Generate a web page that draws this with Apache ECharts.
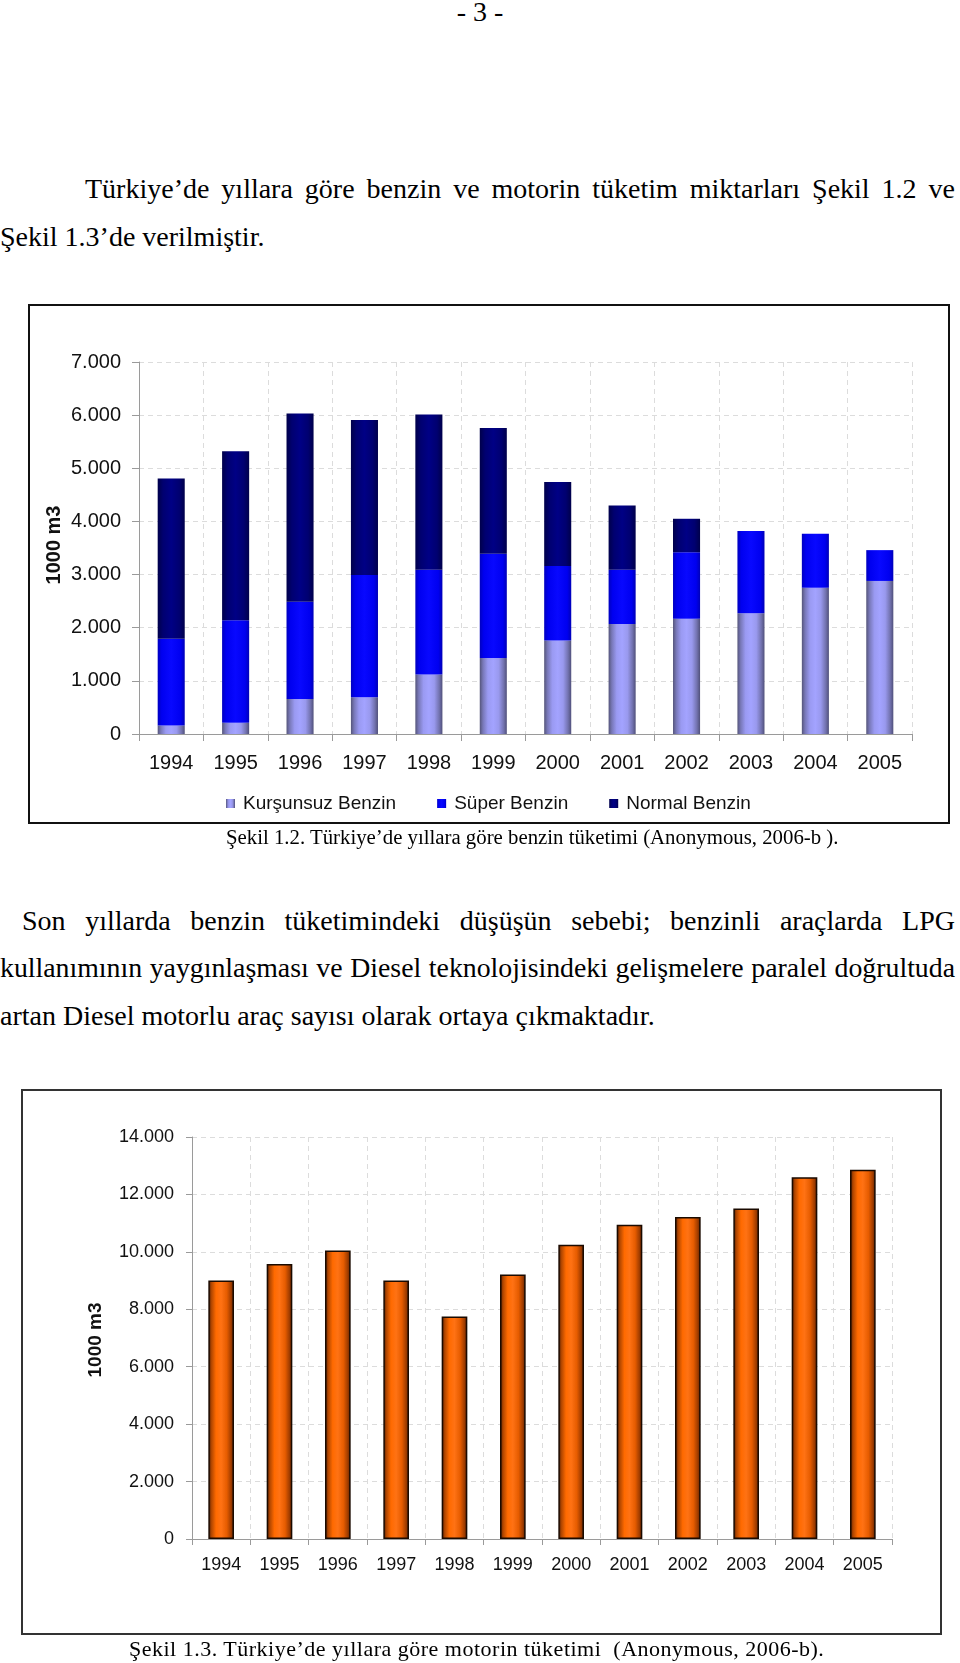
<!DOCTYPE html>
<html>
<head>
<meta charset="utf-8">
<script src="https://cdn.jsdelivr.net/npm/echarts@6/dist/echarts.min.js"></script>
<style>
  html, body { margin: 0; padding: 0; background: #fff; }
  body { width: 960px; height: 1663px; position: relative; overflow: hidden; font-family: "Liberation Serif", "Times New Roman", serif; color: #000; }
  .ln { position: absolute; font-size: 28px; line-height: 28px; white-space: normal; }
  .just { text-align: justify; text-align-last: justify; }
  .cap { position: absolute; font-size: 21px; line-height: 21px; white-space: nowrap; }
  .frame { position: absolute; box-sizing: border-box; pointer-events: none; }
  .chart { position: absolute; }
</style>
</head>
<body>
<div class="ln" style="left:0; top:-2px; width:960px; text-align:center;">- 3 -</div>

<div class="ln just" style="left:85px; top:175px; width:870px;">Türkiye’de yıllara göre benzin ve motorin tüketim miktarları Şekil 1.2 ve</div>
<div class="ln" style="left:0; top:223px; width:955px;">Şekil 1.3’de verilmiştir.</div>

<div id="c1" class="chart" style="left:28px; top:304px; width:922px; height:520px;"></div>
<div class="frame" style="left:28px; top:304px; width:922px; height:520px; border:2px solid #111;"></div>
<div class="cap" style="left:226px; top:826px; font-size:20.8px;">Şekil 1.2. Türkiye’de yıllara göre benzin tüketimi (Anonymous, 2006-b ).</div>

<div class="ln just" style="left:22px; top:907px; width:933px;">Son yıllarda benzin tüketimindeki düşüşün sebebi; benzinli araçlarda LPG</div>
<div class="ln just" style="left:0; top:954px; width:955px; font-size:27.8px; white-space:nowrap;">kullanımının yaygınlaşması ve Diesel teknolojisindeki gelişmelere paralel doğrultuda</div>
<div class="ln" style="left:0; top:1002px; width:955px;">artan Diesel motorlu araç sayısı olarak ortaya çıkmaktadır.</div>

<div id="c2" class="chart" style="left:21px; top:1089px; width:921px; height:546px;"></div>
<div class="frame" style="left:21px; top:1089px; width:921px; height:546px; border:2px solid #333;"></div>
<div class="cap" style="left:129px; top:1638px; font-size:22px; line-height:22px; letter-spacing:0.5px;">Şekil 1.3. Türkiye’de yıllara göre motorin tüketimi &nbsp;(Anonymous, 2006-b).</div>

<script>
// ---------- data ----------
const years = ['1994','1995','1996','1997','1998','1999','2000','2001','2002','2003','2004','2005'];
const kursunsuz = [160, 210, 660, 690, 1120, 1430, 1760, 2070, 2170, 2270, 2750, 2880];
const superBenzin = [1630, 1930, 1830, 2300, 1970, 1960, 1400, 1020, 1250, 1550, 1020, 580];
const normalBenzin = [3020, 3180, 3540, 2920, 2920, 2370, 1580, 1210, 630, 0, 0, 0];
const motorin = [9000, 9580, 10050, 9000, 7750, 9210, 10250, 10940, 11210, 11510, 12600, 12860];
const yTicks1 = ['0','1.000','2.000','3.000','4.000','5.000','6.000','7.000'];
const yTicks2 = ['0','2.000','4.000','6.000','8.000','10.000','12.000','14.000'];
const seriesNames = ['Kurşunsuz Benzin', 'Süper Benzin', 'Normal Benzin'];
const yName = '1000 m3';

const FONT = '"Liberation Sans", Arial, sans-serif';
const G = echarts.graphic.LinearGradient;

function hGrad(stops) {
  return new G(0, 0, 1, 0, stops.map(c => ({ offset: c[0], color: c[1] })));
}

const gridDash = { color: '#dcdcdc', width: 1, type: [5, 4] };

// ---------- chart 1 ----------
const c1 = echarts.init(document.getElementById('c1'), null, { renderer: 'canvas' });
c1.setOption({
  animation: false,
  textStyle: { fontFamily: FONT },
  grid: { left: 111, right: 38, top: 58, bottom: 90, containLabel: false },
  legend: {
    data: seriesNames,
    left: 193, top: 485,
    itemWidth: 9, itemHeight: 9, itemGap: 41,
    icon: 'rect',
    textStyle: { fontSize: 19, color: '#111', fontFamily: FONT, padding: [0, 0, 0, 3] }
  },
  xAxis: {
    type: 'category', data: years,
    axisLine: { lineStyle: { color: '#9a9a9a', width: 1 } },
    axisTick: { show: true, length: 7, lineStyle: { color: '#9a9a9a' } },
    axisLabel: { fontSize: 20, color: '#111', margin: 19, fontFamily: FONT },
    splitLine: { show: true, interval: 0, lineStyle: gridDash }
  },
  yAxis: {
    type: 'value', min: 0, max: 7000, interval: 1000,
    axisLine: { show: true, lineStyle: { color: '#9a9a9a', width: 1 } },
    axisTick: { show: true, length: 7, lineStyle: { color: '#9a9a9a' } },
    axisLabel: { fontSize: 20, color: '#111', margin: 18, fontFamily: FONT,
      formatter: v => yTicks1[Math.round(v / 1000)] },
    splitLine: { show: true, lineStyle: gridDash }
  },
  graphic: [{
    type: 'text', x: 26, y: 241, rotation: Math.PI / 2,
    style: { text: yName, font: 'bold 20px ' + FONT, fill: '#111', align: 'center', verticalAlign: 'middle' }
  }],
  series: [
    { name: seriesNames[0], type: 'bar', stack: 'b', barWidth: '42%', data: kursunsuz,
      itemStyle: { color: hGrad([[0,'#55557a'],[0.12,'#7878b8'],[0.3,'#9a9af2'],[0.5,'#a3a3ff'],[0.7,'#9999ee'],[0.88,'#7373b0'],[1,'#50507a']]) } },
    { name: seriesNames[1], type: 'bar', stack: 'b', barWidth: '42%', data: superBenzin,
      itemStyle: { color: hGrad([[0,'#0000c0'],[0.15,'#0000f0'],[0.5,'#0808ff'],[0.85,'#0000f0'],[1,'#0000b8']]) } },
    { name: seriesNames[2], type: 'bar', stack: 'b', barWidth: '42%', data: normalBenzin,
      itemStyle: { color: hGrad([[0,'#00004a'],[0.2,'#000070'],[0.5,'#000085'],[0.8,'#000070'],[1,'#00004a']]) } }
  ]
});

// ---------- chart 2 ----------
const c2 = echarts.init(document.getElementById('c2'), null, { renderer: 'canvas' });
c2.setOption({
  animation: false,
  textStyle: { fontFamily: FONT },
  grid: { left: 171, right: 50, top: 48, bottom: 96, containLabel: false },
  xAxis: {
    type: 'category', data: years,
    axisLine: { lineStyle: { color: '#9a9a9a', width: 1 } },
    axisTick: { show: true, length: 6, lineStyle: { color: '#9a9a9a' } },
    axisLabel: { fontSize: 18, color: '#111', margin: 17, fontFamily: FONT },
    splitLine: { show: true, interval: 0, lineStyle: gridDash }
  },
  yAxis: {
    type: 'value', min: 0, max: 14000, interval: 2000,
    axisLine: { show: true, lineStyle: { color: '#9a9a9a', width: 1 } },
    axisTick: { show: true, length: 6, lineStyle: { color: '#9a9a9a' } },
    axisLabel: { fontSize: 18, color: '#111', margin: 18, fontFamily: FONT,
      formatter: v => yTicks2[Math.round(v / 2000)] },
    splitLine: { show: true, lineStyle: gridDash }
  },
  graphic: [{
    type: 'text', x: 75, y: 251, rotation: Math.PI / 2,
    style: { text: yName, font: 'bold 19px ' + FONT, fill: '#111', align: 'center', verticalAlign: 'middle' }
  }],
  series: [
    { name: 'Motorin', type: 'bar', barWidth: '44%', data: motorin,
      itemStyle: { borderColor: '#1a0a00', borderWidth: 1.5,
        color: hGrad([[0,'#4a1800'],[0.12,'#b04600'],[0.3,'#ff6a00'],[0.5,'#ff7214'],[0.72,'#e65c00'],[0.9,'#9a3a00'],[1,'#4a1800']]) } }
  ]
});
</script>
</body>
</html>
